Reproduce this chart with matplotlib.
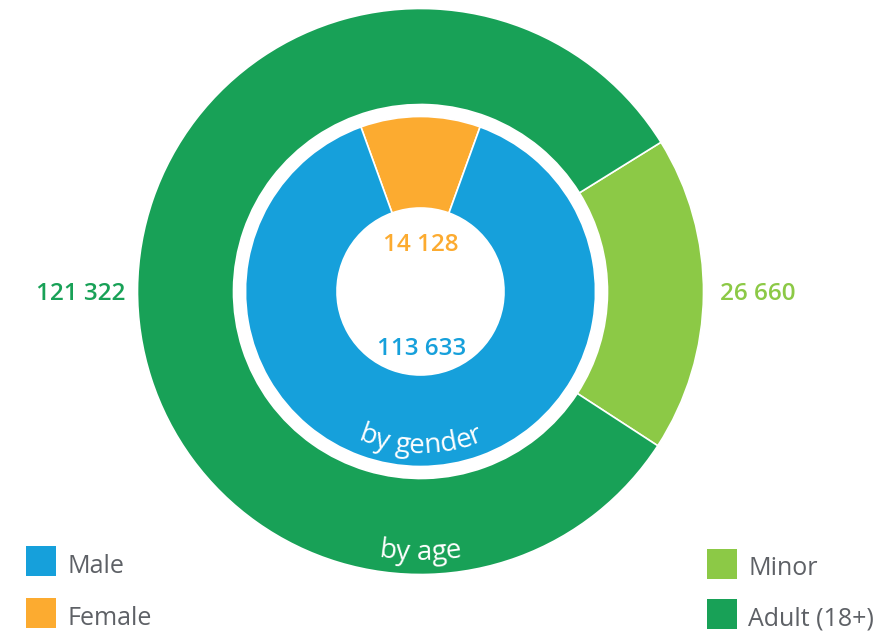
import numpy as np
import matplotlib
matplotlib.use("Agg")
import matplotlib.pyplot as plt
from matplotlib.patches import Patch
from matplotlib.font_manager import FontProperties

# ---- data ----
age_labels = ["Minor", "Adult (18+)"]
age_values = [26660, 121322]
gender_labels = ["Female", "Male"]
gender_values = [14128, 113633]

# ---- style ----
C_BLUE = "#16A0DB"
C_ORANGE = "#FCAB30"
C_LGREEN = "#8CC946"
C_DGREEN = "#18A157"
C_TEXT = "#5E6166"
age_colors = [C_LGREEN, C_DGREEN]
gender_colors = [C_ORANGE, C_BLUE]
FONT = ["Open Sans", "DejaVu Sans"]
plt.rcParams["font.family"] = FONT

W, H = 879, 633
fig = plt.figure(figsize=(W / 100, H / 100), dpi=100)
ax = fig.add_axes([0, 0, 1, 1])

cx, cy = 420.5, H - 291.5
R_OUT, W_OUT = 283, 96
R_IN, W_IN = 175, 91.5

def fmt(v):
    return f"{v:,}".replace(",", " ")

# outer ring (by age): minor centred at the right
minor_frac = age_values[0] / sum(age_values)
ax.pie(age_values, colors=age_colors, radius=R_OUT, center=(cx, cy),
       startangle=-0.6 - minor_frac * 180, counterclock=True,
       wedgeprops=dict(width=W_OUT, edgecolor="white", linewidth=1.2))
# inner ring (by gender): female centred at the top
fem_frac = gender_values[0] / sum(gender_values)
ax.pie(gender_values, colors=gender_colors, radius=R_IN, center=(cx, cy),
       startangle=90 - fem_frac * 180, counterclock=True,
       wedgeprops=dict(width=W_IN, edgecolor="white", linewidth=1.2))

ax.set_xlim(0, W)
ax.set_ylim(0, H)
ax.set_aspect("equal", adjustable="box")
ax.axis("off")

# value labels
num_kw = dict(fontsize=17.5, fontweight="semibold", ha="center", va="baseline")
ax.text(81, H - 299.5, fmt(age_values[1]), color=C_DGREEN, **num_kw)
ax.text(758, H - 300, fmt(age_values[0]), color=C_LGREEN, **num_kw)
ax.text(421, H - 251, fmt(gender_values[0]), color=C_ORANGE, **num_kw)
ax.text(421.5, H - 355, fmt(gender_values[1]), color=C_BLUE, **num_kw)

# curved text along the bottom of each ring
renderer = fig.canvas.get_renderer()

def text_w(s, prop):
    w, h, d = renderer.get_text_width_height_descent(s, prop, ismath=False)
    return w

def curved_text(s, r, size, color):
    prop = FontProperties(family=FONT, size=size)
    ref = text_w("l", prop)
    lefts = [0.0] + [text_w(s[:i] + "l", prop) - ref for i in range(1, len(s) + 1)]
    total = lefts[-1]
    for i, ch in enumerate(s):
        if ch == " ":
            continue
        c = (lefts[i] + lefts[i + 1]) / 2 - total / 2
        th = -np.pi / 2 + c / r
        x = cx + r * np.cos(th)
        y = cy + r * np.sin(th)
        ax.text(x, y, ch, fontproperties=prop, color=color, ha="center",
                va="baseline", rotation=np.degrees(th) + 90,
                rotation_mode="anchor")

curved_text("by gender", 161.5, 20, "white")
curved_text("by age", 268.5, 20, "white")

# legends
leg_kw = dict(frameon=False, fontsize=18, handlelength=1.2, handleheight=1.469,
              handletextpad=0.45, labelspacing=0.88, borderpad=0, borderaxespad=0,
              loc="upper left", labelcolor=C_TEXT)
h1 = [Patch(facecolor=c, linewidth=0, label=l)
      for c, l in zip([C_BLUE, C_ORANGE], ["Male", "Female"])]
leg1 = ax.legend(handles=h1, bbox_to_anchor=(26 / W, 1 - 546 / H), **leg_kw)
ax.add_artist(leg1)
h2 = [Patch(facecolor=c, linewidth=0, label=l)
      for c, l in zip([C_LGREEN, C_DGREEN], ["Minor", "Adult (18+)"])]
leg2 = ax.legend(handles=h2, bbox_to_anchor=(707 / W, 1 - 549 / H),
                 **{**leg_kw, "labelspacing": 0.8})
for t in leg1.get_texts():
    t.set_y(-4)
for t in leg2.get_texts():
    t.set_y(-3)

fig.savefig("out.png", dpi=100)
